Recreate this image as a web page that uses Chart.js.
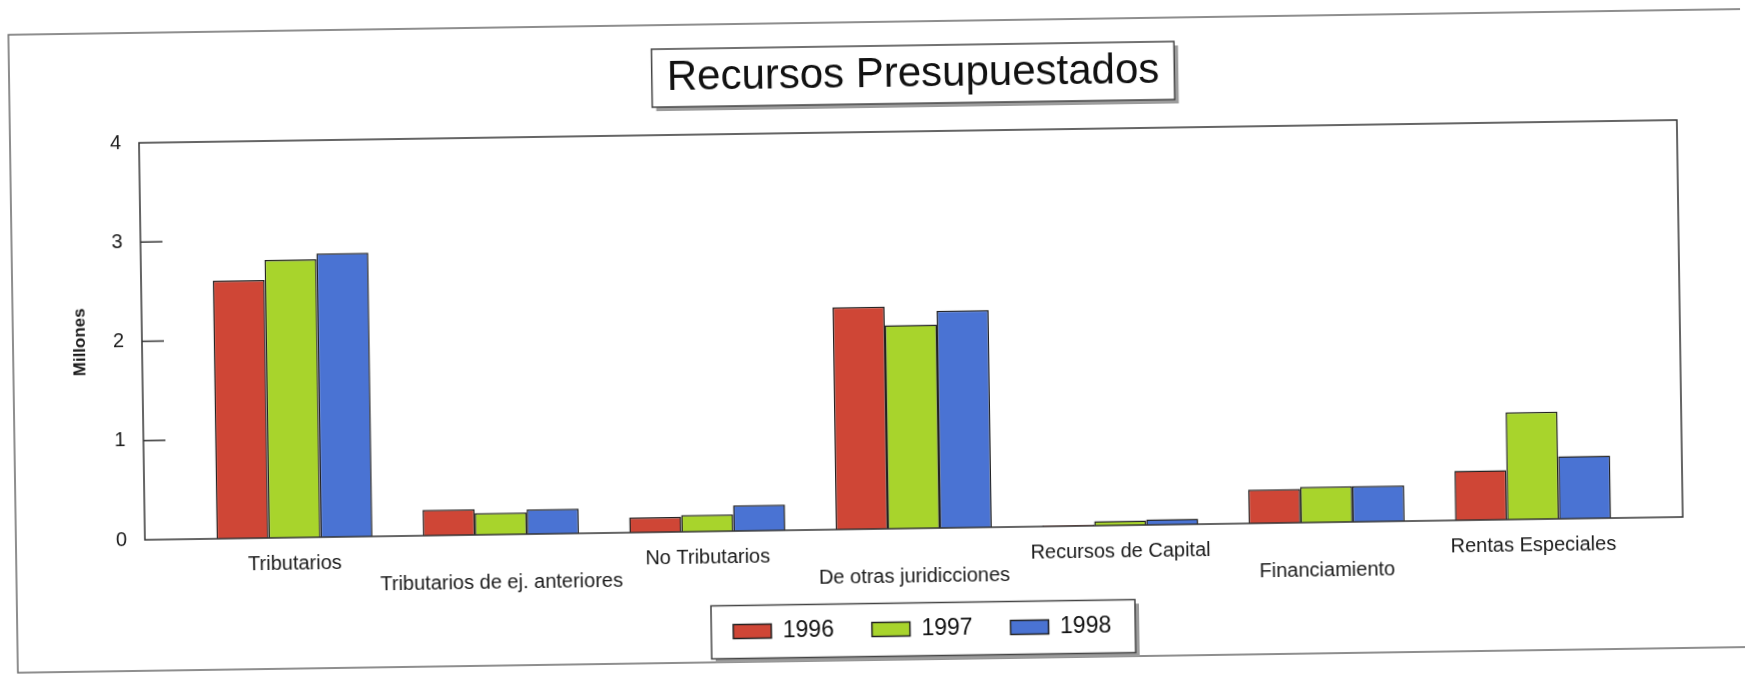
<!DOCTYPE html>
<html>
<head>
<meta charset="utf-8">
<title>Recursos Presupuestados</title>
<script src="https://cdn.jsdelivr.net/npm/chart.js@4.4.1/dist/chart.umd.min.js"></script>
<style>
    html, body { margin: 0; padding: 0; background: #fff; overflow: hidden; }
    /* the scanned page is slightly tilted */
    #sheet { position: relative; width: 1745px; height: 678px; transform: rotate(-0.85deg); transform-origin: 872px 339px; }
</style>
</head>
<body>
<div id="sheet"><canvas id="chart" width="1745" height="678"></canvas></div>
<script>
const categories = [
    'Tributarios',
    'Tributarios de ej. anteriores',
    'No Tributarios',
    'De otras juridicciones',
    'Recursos de Capital',
    'Financiamiento',
    'Rentas Especiales'
];
const years = ['1996', '1997', '1998'];
const values1996 = [2.60, 0.26, 0.15, 2.24, 0.01, 0.34, 0.50];
const values1997 = [2.80, 0.22, 0.17, 2.05, 0.045, 0.36, 1.08];
const values1998 = [2.86, 0.25, 0.26, 2.19, 0.055, 0.36, 0.63];
const yTicks = [0, 1, 2, 3, 4];

const series = [values1996, values1997, values1998];
const colors = ['#cf4636', '#a8d42c', '#4a73d3'];
const fontFamily = "'Liberation Sans', Arial, Helvetica, sans-serif";

Chart.defaults.font.family = fontFamily;
Chart.defaults.color = '#1a1a1a';

function drawBox(c, x, y, w, h) {
    c.fillStyle = '#9c9c9c';
    c.fillRect(x + 4, y + 4, w, h);
    c.fillStyle = '#fff';
    c.fillRect(x, y, w, h);
    c.strokeStyle = '#444';
    c.lineWidth = 1.5;
    c.strokeRect(x, y, w, h);
}

const framePlugin = {
    id: 'frames',
    afterLayout(chart) {
        // title and legend sit a little right of the plot centre
        chart.titleBlock.left += 6;
        chart.titleBlock.right += 6;
        chart.legend.left += 7;
        chart.legend.right += 7;
        // let the second row of category labels show below the axis box
        chart.scales.x.bottom = chart.scales.x.top + 72;
    },
    beforeDraw(chart) {
        const c = chart.ctx;
        c.save();
        // page border
        c.strokeStyle = '#6a6a6a';
        c.lineWidth = 1.5;
        c.strokeRect(13, 22, 1800, 638);

        // title box
        const t = chart.titleBlock;
        c.font = '42px ' + fontFamily;
        const tw = c.measureText(t.options.text).width;
        const cx = (t.left + t.right) / 2;
        drawBox(c, cx - tw / 2 - 15, t.top, tw + 30, 58);

        // legend box
        const lg = chart.legend;
        const pad = lg.options.labels.padding;
        const hb = lg.legendHitBoxes;
        const w = hb.reduce((s, b) => s + b.width, 0) + pad * (hb.length - 1);
        const lx = (lg.left + lg.right) / 2;
        const ly = lg.top + pad + 11.5;
        drawBox(c, lx - w / 2 - 22, ly - 26, w + 46, 53);
        c.restore();
    },
    afterDatasetsDraw(chart) {
        const {ctx: c, chartArea: a, scales: {y}} = chart;
        c.save();
        c.strokeStyle = '#333';
        c.lineWidth = 1.5;
        c.strokeRect(a.left, a.top, a.right - a.left, a.bottom - a.top);
        // short inner tick marks on the value axis
        y.ticks.forEach(tk => {
            if (tk.value === y.min || tk.value === y.max) return;
            const py = y.getPixelForValue(tk.value);
            c.beginPath();
            c.moveTo(a.left, py);
            c.lineTo(a.left + 22, py);
            c.stroke();
        });
        c.restore();
    }
};

const ctx = document.getElementById('chart').getContext('2d');
new Chart(ctx, {
    type: 'bar',
    data: {
        datasets: series.map((vals, k) => ({
            label: years[k],
            data: vals.map((v, i) => ({x: i, y: v})),
            backgroundColor: colors[k],
            borderColor: '#222',
            borderWidth: 1.5,
            categoryPercentage: 0.756,
            barPercentage: 1.0
        }))
    },
    options: {
        responsive: false,
        animation: false,
        layout: {padding: {left: 0, right: 65, top: 46, bottom: 27}},
        plugins: {
            title: {
                display: true,
                text: 'Recursos Presupuestados',
                fullSize: false,
                color: '#111',
                font: {size: 42, weight: 'normal', lineHeight: 1},
                padding: {top: 8, bottom: 36}
            },
            legend: {
                position: 'bottom',
                fullSize: false,
                labels: {
                    boxWidth: 38,
                    boxHeight: 14,
                    padding: 38,
                    color: '#111',
                    font: {size: 23}
                }
            },
            tooltip: {enabled: false}
        },
        scales: {
            x: {
                type: 'linear',
                min: -0.725,
                max: 6.725,
                offset: false,
                grid: {display: false, drawTicks: false},
                border: {display: false},
                afterBuildTicks: s => { s.ticks = categories.map((c, i) => ({value: i})); },
                afterFit: s => { s.height = 51; },
                ticks: {
                    padding: 15,
                    autoSkip: false,
                    maxRotation: 0,
                    font: {size: 20, lineHeight: 1.12},
                    // labels alternate between two rows
                    callback: (v, i) => i % 2 ? ['', categories[i]] : categories[i]
                }
            },
            y: {
                min: 0,
                max: 4,
                grid: {display: false, drawTicks: false},
                border: {display: false},
                afterBuildTicks: s => { s.ticks = yTicks.map(v => ({value: v})); },
                afterFit: s => { s.width = 142; },
                ticks: {padding: 18, font: {size: 20}},
                title: {
                    display: true,
                    text: 'Millones',
                    font: {size: 17, weight: 'bold', lineHeight: 1},
                    padding: {top: 72, bottom: 0}
                }
            }
        }
    },
    plugins: [framePlugin]
});
</script>
</body>
</html>
